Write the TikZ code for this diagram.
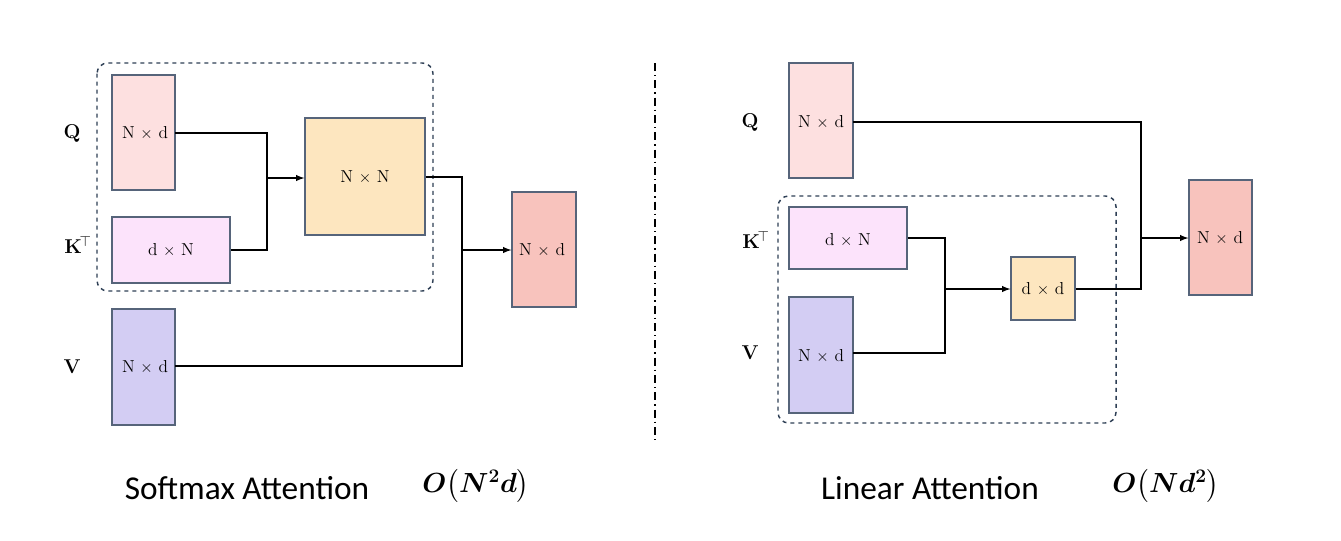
\documentclass[tikz,border=0pt]{standalone}
\usepackage{fontspec}
\usepackage{amsmath}
\newfontfamily\carl{Carlito}
\definecolor{bd}{HTML}{56647A}
\definecolor{cq}{HTML}{FDE0E0}
\definecolor{ck}{HTML}{FCE3FB}
\definecolor{cn}{HTML}{FDE6BF}
\definecolor{cv}{HTML}{D3CDF3}
\definecolor{co}{HTML}{F8C3BD}
\definecolor{dbd}{HTML}{2E3F55}
\begin{document}
\begin{tikzpicture}[x=0.75pt,y=-0.75pt,
 bx/.style={draw=bd,line width=1pt,inner sep=0pt},
 ln/.style={line width=1.1pt},
 ar/.style={line width=1.1pt,-latex},
 dsh/.style={draw=dbd,dashed,line width=1.1pt,rounded corners=8pt},
 lb/.style={font=\bfseries\fontsize{15}{17}\selectfont},
 tt/.style={font=\fontsize{13}{15}\selectfont}]
\useasboundingbox (0,0) rectangle (1341,540);
% left
\draw[dsh] (97,63) rectangle (433,291);
\node[bx,fill=cq,minimum width=63*0.75pt,minimum height=115*0.75pt] (q1) at (143.5,132.5) {};
\node[tt] at (145,133) {N $\times$ d};
\node[bx,fill=ck,minimum width=118*0.75pt,minimum height=66*0.75pt] (k1) at (171,250) {};
\node[tt] at (171,250) {d $\times$ N};
\node[bx,fill=cn,minimum width=120*0.75pt,minimum height=117*0.75pt] (nn) at (365,176.5) {};
\node[tt] at (365,177) {N $\times$ N};
\node[bx,fill=cv,minimum width=63*0.75pt,minimum height=116*0.75pt] (v1) at (143.5,367) {};
\node[tt] at (145,367) {N $\times$ d};
\node[bx,fill=co,minimum width=64*0.75pt,minimum height=115*0.75pt] (o1) at (544,249.5) {};
\node[tt] at (542,250) {N $\times$ d};
\node[lb] at (72,133) {Q};
\node[lb] at (78,245) {K$^{\!\top}$};
\node[lb] at (72,367) {V};
\coordinate (j1) at (267,178);
\coordinate (j2) at (462,250);
\draw[ln] (175,133) -| (267,250) -- (k1.east);
\draw[ar] (j1) -- (nn.west|-j1);
\draw[ln] (nn.east|-0,177) -| (462,366) -- (175,366);
\draw[ar] (j2) -- (o1.west|-j2);
\draw[line width=1pt,dash pattern=on 6pt off 3pt on 1pt off 3pt] (655,63) -- (655,440);
\node[font=\carl\fontsize{25}{28}\selectfont] at (247,488) {Softmax Attention};
\node[font=\fontsize{20}{22}\selectfont] at (476,486) {$\boldsymbol{O\bigl(N^2d\bigr)}$};
% right
\draw[dsh] (778,196) rectangle (1116,423);
\node[bx,fill=cq,minimum width=64*0.75pt,minimum height=115*0.75pt] (q2) at (821,120.5) {};
\node[tt] at (821,122) {N $\times$ d};
\node[bx,fill=ck,minimum width=118*0.75pt,minimum height=62*0.75pt] (k2) at (848,238) {};
\node[tt] at (848,240) {d $\times$ N};
\node[bx,fill=cv,minimum width=64*0.75pt,minimum height=116*0.75pt] (v2) at (821,355) {};
\node[tt] at (821,356) {N $\times$ d};
\node[bx,fill=cn,minimum width=64*0.75pt,minimum height=63*0.75pt] (dd) at (1043,288.5) {};
\node[tt] at (1043,289) {d $\times$ d};
\node[bx,fill=co,minimum width=63*0.75pt,minimum height=115*0.75pt] (o2) at (1220.5,237.5) {};
\node[tt] at (1220,238) {N $\times$ d};
\node[lb] at (750,122) {Q};
\node[lb] at (756,240) {K$^{\!\top}$};
\node[lb] at (750,353) {V};
\coordinate (j3) at (945,289);
\coordinate (j4) at (1141,238);
\draw[ln] (853,122) -| (1141,290);
\draw[ln] (dd.east|-0,289) -- (1141,289);
\draw[ar] (j4) -- (o2.west|-j4);
\draw[ln] (k2.east|-0,238) -| (945,353) -- (853,353);
\draw[ar] (j3) -- (dd.west|-j3);
\node[font=\carl\fontsize{25}{28}\selectfont] at (930,488) {Linear Attention};
\node[font=\fontsize{20}{22}\selectfont] at (1166,486) {$\boldsymbol{O\bigl(Nd^2\bigr)}$};
\end{tikzpicture}
\end{document}
